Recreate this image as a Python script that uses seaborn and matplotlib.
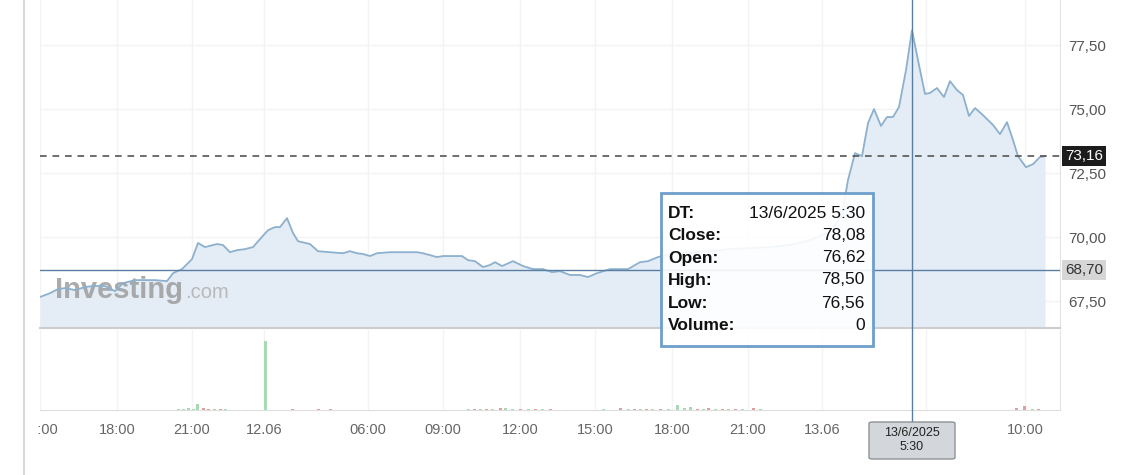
import matplotlib
matplotlib.use("Agg")
import numpy as np
import pandas as pd
import seaborn as sns
import matplotlib.pyplot as plt
from matplotlib import transforms
from matplotlib.patches import Rectangle, FancyBboxPatch
from matplotlib.lines import Line2D

# ---------------- data ----------------
# position on the chart's compressed time index, and close price
t_idx = [0, 10, 18, 25, 35, 45, 53, 65, 75, 83, 95, 105, 115, 127, 133, 142, 152, 158,
         165, 177, 183, 190, 197, 205, 213, 220, 228, 235, 240, 247, 253, 258, 270, 278,
         290, 303, 310, 317, 323, 330, 337, 350, 377, 383, 397, 403, 410, 422, 428, 435,
         443, 450, 455, 462, 473, 483, 493, 503, 512, 520, 530, 540, 548, 557, 570, 588,
         600, 608, 618, 630, 650, 670, 690, 710, 730, 750, 770, 790, 802, 808, 815, 822,
         828, 834, 841, 847, 853, 859, 866, 872, 878, 885, 890, 897, 904, 910, 917, 923,
         929, 935, 942, 953, 960, 967, 973, 978, 986, 993, 1000, 1005]
price = [67.66, 67.81, 67.97, 68.01, 67.93, 68.05, 68.09, 68.09, 67.89, 68.20, 68.32, 68.32,
         68.32, 68.28, 68.59, 68.75, 69.14, 69.77, 69.61, 69.73, 69.69, 69.41, 69.49, 69.53,
         69.61, 69.92, 70.27, 70.39, 70.39, 70.74, 70.16, 69.84, 69.73, 69.45, 69.41, 69.37,
         69.45, 69.37, 69.34, 69.26, 69.37, 69.41, 69.41, 69.37, 69.22, 69.26, 69.26, 69.26,
         69.10, 69.06, 68.83, 68.91, 69.02, 68.87, 69.06, 68.87, 68.75, 68.75, 68.63, 68.67,
         68.52, 68.52, 68.44, 68.59, 68.75, 68.75, 69.02, 69.06, 69.22, 69.34, 69.41, 69.45,
         69.53, 69.57, 69.61, 69.69, 69.88, 70.20, 70.86, 72.23, 73.28, 73.16, 74.45, 75.00,
         74.34, 74.69, 74.69, 75.08, 76.52, 78.08, 76.91, 75.59, 75.63, 75.82, 75.47, 76.09,
         75.74, 75.55, 74.73, 75.04, 74.80, 74.38, 74.02, 74.49, 73.79, 73.16, 72.73, 72.85,
         73.13, 73.16]

# volume bars (relative units), direction u = up (green), d = down (red)
vol_idx = [138, 143, 148, 153, 157, 163, 168, 174, 180, 185, 225, 252, 278, 290,
           428, 434, 440, 446, 452, 460, 465, 472, 480, 488, 495, 502, 510,
           563, 580, 588, 594, 600, 606, 612, 620, 628, 637, 644, 650, 657, 663, 668,
           675, 682, 688, 695, 702, 713, 720, 976, 984, 992, 998]
vol_val = [1, 1.5, 2, 1.5, 6, 2.5, 1, 1, 1, 1, 69, 1, 1, 1.5,
           1, 1, 1, 1, 1.5, 2.5, 2, 1, 1, 1, 1, 1, 1,
           1, 2.5, 1.5, 1.5, 1, 1, 1, 1, 1.5, 5.5, 2, 3.5, 1.5, 1, 2.5,
           1, 1, 1, 1, 1, 2.5, 1, 2.5, 4, 1, 1]
vol_dir = ['u', 'u', 'u', 'u', 'u', 'd', 'd', 'u', 'd', 'u', 'u', 'd', 'd', 'd',
           'u', 'd', 'u', 'd', 'u', 'd', 'u', 'u', 'd', 'u', 'd', 'u', 'd',
           'u', 'd', 'u', 'd', 'u', 'd', 'u', 'd', 'u', 'u', 'u', 'u', 'd', 'u', 'd',
           'u', 'd', 'u', 'd', 'u', 'd', 'u', 'd', 'd', 'u', 'd']

tick_idx = [0, 77, 152, 224, 328, 403, 480, 555, 632, 708, 782, 886, 985]
# the label at 886 is hidden under the crosshair date box in the reference
tick_lbl = ['15:00', '18:00', '21:00', '12.06', '06:00', '09:00', '12:00', '15:00',
            '18:00', '21:00', '13.06', '', '10:00']
ytick_vals = [67.5, 70.0, 72.5, 75.0, 77.5]

last_price = 73.16
cross_price = 68.70
hover_idx = 872
hover_label = "13/6/2025\n5:30"
tip_keys = ["DT:", "Close:", "Open:", "High:", "Low:", "Volume:"]
tip_vals = ["13/6/2025 5:30", "78,08", "76,62", "78,50", "76,56", "0"]

# ---------------- style ----------------
sns.set_style("white")
plt.rcParams['font.family'] = ['Liberation Sans', 'DejaVu Sans']

W, H = 1131, 475
fig = plt.figure(figsize=(W / 100, H / 100), dpi=100)
fig.patch.set_facecolor('white')


def fx(px):
    return px / W


def fy(py):
    return 1 - py / H


ax = fig.add_axes([fx(40), fy(328), fx(1060) - fx(40), fy(0) - fy(328)])
axv = fig.add_axes([fx(40), fy(410), fx(1060) - fx(40), fy(330) - fy(410)], sharex=ax)

ymin, ymax = 66.45, 79.26
df = pd.DataFrame({"t": t_idx, "price": price})

ax.set_xlim(0, 1020)
ax.set_ylim(ymin, ymax)
ax.fill_between(df["t"], df["price"], ymin, color='#e4edf6', lw=0, zorder=1)
sns.lineplot(data=df, x="t", y="price", ax=ax, color='#8cb0cd', lw=1.3, zorder=2)

# watermark
ax.text((55 - 40) / 1020, (328 - 298) / 328, "Investing", transform=ax.transAxes,
        fontsize=21, fontweight='bold', color='#9c9c9c', alpha=0.85,
        va='baseline', ha='left', zorder=1.5)
ax.text((185 - 40) / 1020, (328 - 298) / 328, ".com", transform=ax.transAxes,
        fontsize=14.5, color='#b3b3b3', alpha=0.9,
        va='baseline', ha='left', zorder=1.5)

# reference lines
ax.axhline(last_price, color='#555555', lw=1.2, ls=(0, (4, 3.5)), zorder=3)
ax.axhline(cross_price, color='#5a7ea2', lw=1.0, zorder=3)

# axes styling (price)
ax.set_xlabel("")
ax.set_ylabel("")
ax.set_xticks(tick_idx)
ax.tick_params(axis='x', which='both', length=0, labelbottom=False)
ax.yaxis.tick_right()
ax.set_yticks(ytick_vals)
ax.set_yticklabels([f"{v:.2f}".replace('.', ',') for v in ytick_vals])
ax.tick_params(axis='y', length=0, pad=6, labelsize=11, labelcolor='#555555')
ax.grid(True, color='#f3f3f3', lw=1)
ax.set_axisbelow(True)
for s in ['top', 'left']:
    ax.spines[s].set_visible(False)
ax.spines['right'].set_color('#e3e3e3')
ax.spines['bottom'].set_color('#cdcdcd')
ax.spines['bottom'].set_linewidth(1.5)

blend = transforms.blended_transform_factory(ax.transAxes, ax.transData)
ax.text((1065 - 40) / 1020, last_price, f"{last_price:.2f}".replace('.', ','),
        transform=blend, ha='left', va='center', fontsize=11, color='white', zorder=5,
        bbox=dict(boxstyle='square,pad=0.2', fc='#1c1c1c', ec='none'))
ax.text((1065 - 40) / 1020, cross_price, f"{cross_price:.2f}".replace('.', ','),
        transform=blend, ha='left', va='center', fontsize=11, color='#333333', zorder=5,
        bbox=dict(boxstyle='square,pad=0.2', fc='#d6d6d6', ec='none'))

# volume panel
vcol = {'u': '#a6d9b4', 'd': '#e39c9c'}
axv.bar(vol_idx, vol_val, width=3, color=[vcol[d] for d in vol_dir], lw=0)
axv.set_ylim(0, 80)
axv.set_yticks([])
axv.set_xticks(tick_idx)
axv.set_xticklabels(tick_lbl)
axv.tick_params(axis='x', length=5, color='#d5d5d5', labelsize=10.5,
                labelcolor='#666666', pad=4)
axv.grid(True, axis='x', color='#f3f3f3', lw=1)
axv.set_axisbelow(True)
for s in ['top', 'left']:
    axv.spines[s].set_visible(False)
axv.spines['right'].set_color('#e3e3e3')
axv.spines['bottom'].set_color('#dedede')

# clip the first (cut-off) tick label at the widget edge
first = axv.xaxis.get_major_ticks()[0].label1
first.set_clip_on(True)
first.set_clip_box(transforms.TransformedBbox(
    transforms.Bbox([[fx(37), 0], [1, 1]]), fig.transFigure))

# crosshair vertical line spanning both panels
vblend = transforms.blended_transform_factory(ax.transData, fig.transFigure)
fig.add_artist(Line2D([hover_idx, hover_idx], [1, fy(422)], transform=vblend,
                      color='#5a7ea2', lw=1.0, zorder=4))

# left widget border
fig.add_artist(Line2D([fx(24), fx(24)], [0, 1], transform=fig.transFigure,
                      color='#d8d8d8', lw=1.5))

# tooltip
fig.add_artist(Rectangle((fx(661), fy(346)), fx(873) - fx(661), fy(193) - fy(346),
                         transform=fig.transFigure, fc='white', alpha=0.9,
                         ec='none', zorder=6))
fig.add_artist(Rectangle((fx(661), fy(346)), fx(873) - fx(661), fy(193) - fy(346),
                         transform=fig.transFigure, fill=False,
                         ec='#6e9fcb', lw=2, zorder=6.5))
rows = [213, 235, 258, 280, 303, 325]
for k, v, r in zip(tip_keys, tip_vals, rows):
    fig.text(fx(668), fy(r), k, fontsize=12.5, fontweight='bold', color='#111111',
             ha='left', va='center', zorder=7)
    fig.text(fx(865), fy(r), v, fontsize=12.5, color='#111111',
             ha='right', va='center', zorder=7)

# date box under the crosshair
fig.add_artist(FancyBboxPatch((fx(869), fy(459)), fx(955) - fx(869), fy(422) - fy(459),
                              boxstyle='round,pad=0,rounding_size=0.003',
                              transform=fig.transFigure, fc='#d3d6da', ec='#8e9195',
                              lw=1, zorder=8))
fig.text(fx(912), fy(440), hover_label, ha='center', va='center', fontsize=9,
         color='#222222', linespacing=1.3, zorder=9)

fig.savefig("out.png", dpi=100, facecolor='white')
